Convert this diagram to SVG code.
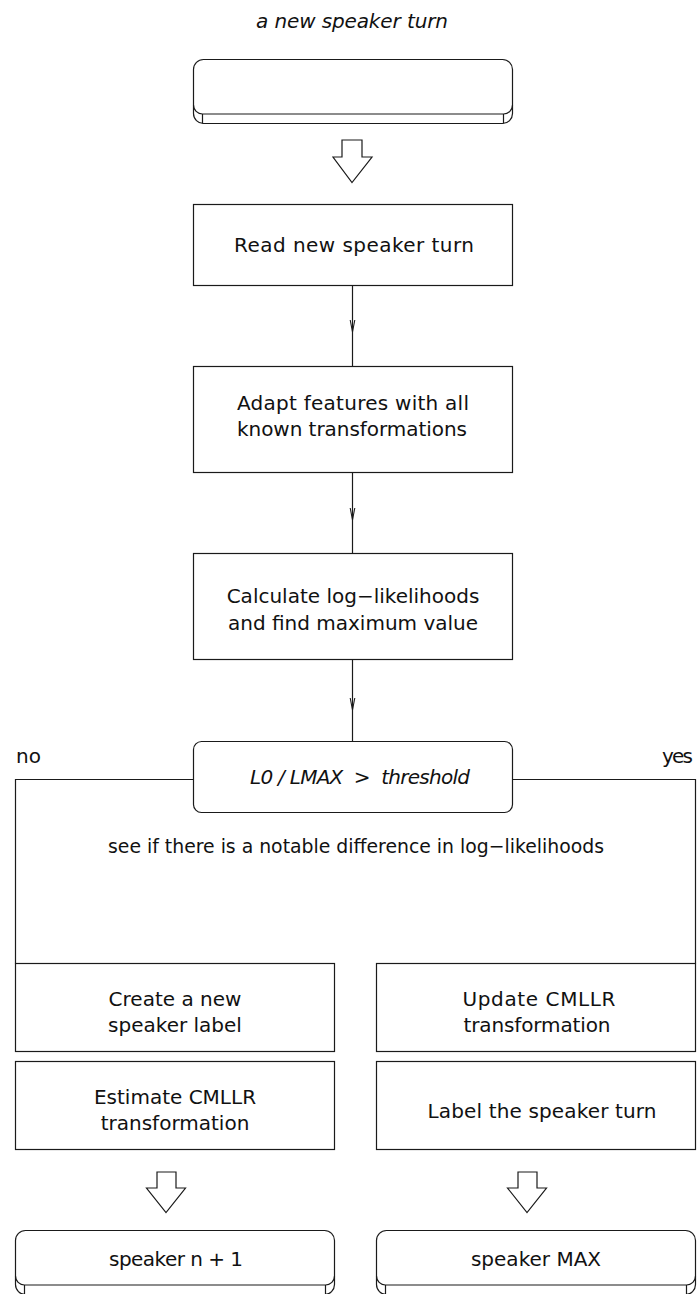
<svg xmlns="http://www.w3.org/2000/svg" width="699" height="1294" viewBox="0 0 699 1294">
  <style>
    .box { fill: #ffffff; stroke: #1a1a1a; stroke-width: 1.2; }
    .line { fill: none; stroke: #1a1a1a; stroke-width: 1.2; }
    .hollow { fill: #ffffff; stroke: #1a1a1a; stroke-width: 1.2; stroke-linejoin: miter; }
    .t { font-family: "DejaVu Sans", "Liberation Sans", sans-serif; font-size: 20px; fill: #111111; text-anchor: middle; }
    .it { font-style: italic; }
  </style>
  <defs>
    <!-- open V head placed at the middle vertex of each vertical connector -->
    <marker id="vhead" markerUnits="userSpaceOnUse" viewBox="-13 -4 14 8" markerWidth="14" markerHeight="8" refX="0" refY="0" orient="auto" overflow="visible">
      <path d="M-12,-2.3 L0,0 L-12,2.3" fill="none" stroke="#1a1a1a" stroke-width="1.1"/>
    </marker>
  </defs>

  <text class="t it" x="352" y="28" textLength="192">a new speaker turn</text>

  <!-- start terminal -->
  <g id="start">
    <rect class="box" x="193.5" y="59.5" width="319" height="64" rx="10"/>
    <path class="line" d="M193.5,105 A9,9 0 0 0 202.5,114 L503.5,114 A9,9 0 0 0 512.5,105"/>
    <path class="line" d="M202.5,114 V123.5 M503.5,114 V123.5"/>
  </g>
  <g id="arrow-start">
    <polygon class="hollow" points="342,140 362,140 362,157 372,157 352,182.5 333,157 342,157"/>
  </g>

  <g id="read">
    <rect class="box" x="193.5" y="204.5" width="319" height="81"/>
    <text class="t" x="354" y="252" textLength="240">Read new speaker turn</text>
  </g>

  <g id="adapt">
    <rect class="box" x="193.5" y="366.5" width="319" height="106"/>
    <text class="t" x="353" y="410" textLength="232">Adapt features with all</text>
    <text class="t" x="352" y="436" textLength="230">known transformations</text>
  </g>

  <g id="calc">
    <rect class="box" x="193.5" y="553.5" width="319" height="106"/>
    <text class="t" x="353" y="603">Calculate log−likelihoods</text>
    <text class="t" x="353" y="630">and find maximum value</text>
  </g>

  <g id="decision">
    <rect class="box" x="193.5" y="741.5" width="319" height="71" rx="8"/>
    <text class="t it" x="360" y="784" textLength="220" xml:space="preserve">L0 / LMAX  &gt;  threshold</text>
  </g>

  <text class="t" x="28.5" y="763">no</text>
  <text class="t" x="677.5" y="763" textLength="31">yes</text>
  <text class="t" x="356" y="853" textLength="496" lengthAdjust="spacingAndGlyphs">see if there is a notable difference in log−likelihoods</text>

  <g id="create-label">
    <rect class="box" x="15.5" y="963.5" width="319" height="88"/>
    <text class="t" x="175" y="1006">Create a new</text>
    <text class="t" x="175" y="1032">speaker label</text>
  </g>
  <g id="estimate">
    <rect class="box" x="15.5" y="1061.5" width="319" height="88"/>
    <text class="t" x="175" y="1104">Estimate CMLLR</text>
    <text class="t" x="175" y="1130">transformation</text>
  </g>

  <g id="update">
    <rect class="box" x="376.5" y="963.5" width="319" height="88"/>
    <text class="t" x="539" y="1006" textLength="153">Update CMLLR</text>
    <text class="t" x="537" y="1032" textLength="147">transformation</text>
  </g>
  <g id="label-turn">
    <rect class="box" x="376.5" y="1061.5" width="319" height="88"/>
    <text class="t" x="542" y="1118" textLength="229">Label the speaker turn</text>
  </g>

  <g id="arrow-new">
    <polygon class="hollow" points="157,1172 176,1172 176,1188 185.5,1188 166,1212.5 146.5,1188 157,1188"/>
  </g>
  <g id="arrow-max">
    <polygon class="hollow" points="518,1172 537,1172 537,1188 546.5,1188 527,1212.5 507.5,1188 518,1188"/>
  </g>

  <g id="speaker-new">
    <rect class="box" x="15.5" y="1230.5" width="319" height="64" rx="10"/>
    <path class="line" d="M15.5,1276 A9,9 0 0 0 24.5,1285 L325.5,1285 A9,9 0 0 0 334.5,1276"/>
    <path class="line" d="M24.5,1285 V1295 M325.5,1285 V1295"/>
    <text class="t" x="176" y="1266" textLength="134">speaker n + 1</text>
  </g>
  <g id="speaker-max">
    <rect class="box" x="376.5" y="1230.5" width="319" height="64" rx="10"/>
    <path class="line" d="M376.5,1276 A9,9 0 0 0 385.5,1285 L686.5,1285 A9,9 0 0 0 695.5,1276"/>
    <path class="line" d="M385.5,1285 V1295 M686.5,1285 V1295"/>
    <text class="t" x="536" y="1266">speaker MAX</text>
  </g>

  <g id="connectors">
    <polyline class="line" points="352.5,286 352.5,332 352.5,366" marker-mid="url(#vhead)"/>
    <polyline class="line" points="352.5,473 352.5,520 352.5,553" marker-mid="url(#vhead)"/>
    <polyline class="line" points="352.5,660 352.5,710 352.5,741" marker-mid="url(#vhead)"/>
    <polyline class="line" points="193.5,779.5 15.5,779.5 15.5,963.5"/>
    <polyline class="line" points="512.5,779.5 695.5,779.5 695.5,963.5"/>
  </g>
</svg>
